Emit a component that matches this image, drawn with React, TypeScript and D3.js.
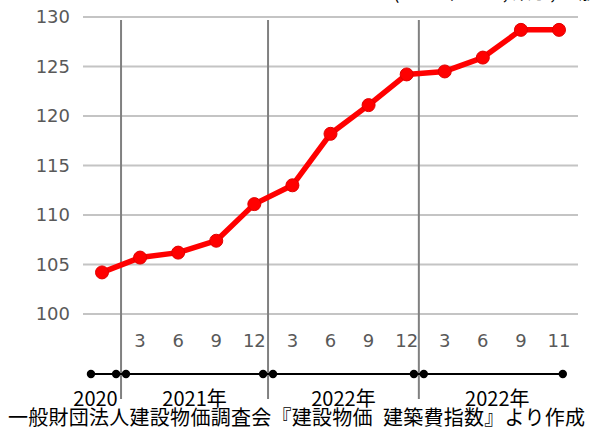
import React, { useEffect, useRef } from 'react';
import * as d3 from 'd3';

// 建築費指数 (monthly points)
const monthLabels = ['', '3', '6', '9', '12', '3', '6', '9', '12', '3', '6', '9', '11'];
const indexValues = [104.2, 105.7, 106.2, 107.4, 111.1, 113.0, 118.2, 121.1, 124.2, 124.5, 125.9, 128.7, 128.7];
const yTicks = [100, 105, 110, 115, 120, 125, 130];

// year periods on the timeline, in point-index units
const periodNames = ['2020', '2021年', '2022年', '2022年'];
const periodStarts = [-0.29, 0.63, 4.49, 8.45];
const periodEnds = [0.37, 4.23, 8.19, 12.1];
const separators = [0.5, 4.36, 8.32];

const sourceNote = '一般財団法人建設物価調査会『建設物価\u2002建築費指数』より作成';

const App: React.FC = () => {
  const svgRef = useRef<SVGSVGElement>(null);
  const width = 590;
  const height = 428;

  useEffect(() => {
    if (!svgRef.current) return;
    const svg = d3.select(svgRef.current);
    svg.selectAll('*').remove();

    const x = d3.scaleLinear().domain([0, indexValues.length - 1]).range([102, 559]);
    const y = d3.scaleLinear().domain([100, 130]).range([314, 17]);
    const numFont = "'DejaVu Sans', Verdana, sans-serif";
    const jpFont = "'Noto Sans CJK JP', sans-serif";

    // header text, mostly cut off by the top edge
    svg.append('text')
      .attr('x', 393).attr('y', -1)
      .attr('font-family', jpFont).attr('font-size', 19)
      .attr('fill', '#000')
      .text('(2015年=100, 東京, 全般)');

    // gridlines
    svg.append('g').selectAll('line')
      .data(yTicks)
      .enter().append('line')
      .attr('x1', 83).attr('x2', 578)
      .attr('y1', d => y(d)).attr('y2', d => y(d))
      .attr('stroke', '#c4c4c4').attr('stroke-width', 2);

    // y labels
    svg.append('g').selectAll('text')
      .data(yTicks)
      .enter().append('text')
      .attr('x', 70).attr('y', d => y(d))
      .attr('dy', '0.36em')
      .attr('text-anchor', 'end')
      .attr('font-family', numFont).attr('font-size', 18)
      .attr('fill', '#595959')
      .text(d => d);

    // month labels
    svg.append('g').selectAll('text')
      .data(monthLabels)
      .enter().append('text')
      .attr('x', (_, i) => x(i)).attr('y', 347)
      .attr('text-anchor', 'middle')
      .attr('font-family', numFont).attr('font-size', 18)
      .attr('fill', '#595959')
      .text(d => d);

    // year separators
    svg.append('g').selectAll('line')
      .data(separators)
      .enter().append('line')
      .attr('x1', d => x(d)).attr('x2', d => x(d))
      .attr('y1', 20).attr('y2', 399)
      .attr('stroke', '#808080').attr('stroke-width', 2);

    // timeline
    const tl = svg.append('g');
    tl.append('line')
      .attr('x1', x(periodStarts[0])).attr('x2', x(periodEnds[periodEnds.length - 1]))
      .attr('y1', 374).attr('y2', 374)
      .attr('stroke', '#000').attr('stroke-width', 2);
    const dots = periodStarts.flatMap((s, i) => [s, periodEnds[i]]);
    tl.selectAll('circle')
      .data(dots)
      .enter().append('circle')
      .attr('cx', d => x(d)).attr('cy', 374).attr('r', 4.2)
      .attr('fill', '#000');
    tl.selectAll('text')
      .data(periodNames)
      .enter().append('text')
      .attr('x', (_, i) => (x(periodStarts[i]) + x(periodEnds[i])) / 2 - (i === 0 ? 8 : 0) + (i === 3 ? 4 : 0))
      .attr('y', 406)
      .attr('text-anchor', 'middle')
      .attr('font-family', jpFont).attr('font-size', 20)
      .attr('fill', '#000')
      .text(d => d);

    // line
    const line = d3.line<number>()
      .x((_, i) => x(i))
      .y(d => y(d));
    svg.append('path')
      .datum(indexValues)
      .attr('d', line)
      .attr('fill', 'none')
      .attr('stroke', '#ff0000')
      .attr('stroke-width', 5.5)
      .attr('stroke-linejoin', 'round');
    svg.append('g').selectAll('circle')
      .data(indexValues)
      .enter().append('circle')
      .attr('cx', (_, i) => x(i)).attr('cy', d => y(d)).attr('r', 6.5)
      .attr('fill', '#ff0000')
      .attr('stroke', '#e00000').attr('stroke-width', 1);

    // source note
    svg.append('text')
      .attr('x', 8).attr('y', 425)
      .attr('font-family', jpFont).attr('font-size', 20)
      .attr('fill', '#000')
      .attr('textLength', 577).attr('lengthAdjust', 'spacing')
      .text(sourceNote);
  }, []);

  return (
    <svg ref={svgRef} width={width} height={height}
      style={{ position: 'absolute', left: 0, top: 0, background: '#fff' }} />
  );
};

export default App;
